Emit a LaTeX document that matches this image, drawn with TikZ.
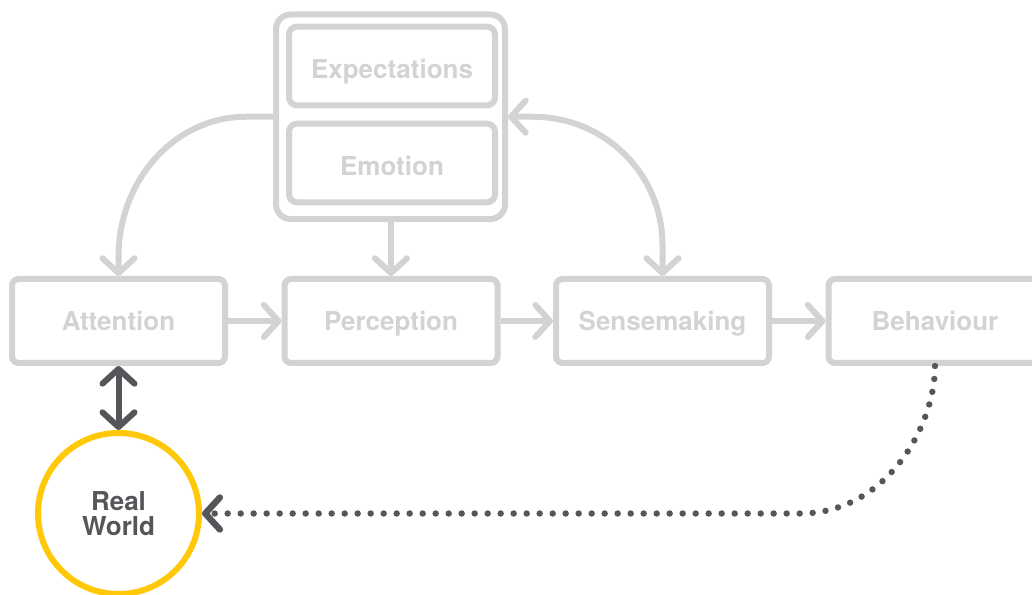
\documentclass[tikz,border=0pt]{standalone}
\usepackage{fontspec}
\setmainfont{TeX Gyre Heros}
\usetikzlibrary{arrows.meta,calc}
\definecolor{boxgray}{RGB}{210,211,213}
\definecolor{inkdark}{RGB}{85,86,89}
\definecolor{sunyellow}{RGB}{255,200,8}

\begin{document}
\begin{tikzpicture}[x=0.75pt,y=-0.75pt,
  barb/.tip={Straight Barb[length=11pt,width=24pt,round]},
  labelfont/.style={font=\fontsize{19.5}{19}\selectfont\bfseries},
  stage/.style={draw=boxgray, line width=4.5pt, rounded corners=5pt,
    minimum width=159.75pt, minimum height=63pt, inner sep=0pt,
    text=boxgray, labelfont, text height=14pt, text depth=0pt},
  innerbox/.style={stage, minimum width=154.5pt, minimum height=59pt,
    rounded corners=6pt, text height=19pt},
  groupbox/.style={draw=boxgray, line width=4.5pt, rounded corners=11pt,
    minimum width=171.75pt, minimum height=153.4pt, inner sep=0pt},
  conn/.style={draw=boxgray, line width=4.5pt, -barb},
  twoway/.style={draw=inkdark, line width=4.5pt, barb-barb},
  feedback/.style={draw=inkdark, line width=4.8pt, line cap=round,
    dash pattern=on 0pt off 9.75pt, -barb},
  world/.style={circle, draw=sunyellow, line width=4.5pt,
    minimum size=120.75pt, inner sep=0pt, text=inkdark, align=center,
    labelfont}
]
\useasboundingbox (0,0) rectangle (1032,595);
\clip (0,0) rectangle (1032,595);

% influences grouped at the top
\node[groupbox] (container) at (390.5,116.75) {};
\node[innerbox] (expectations) at (392,66) {Expectations};
\node[innerbox] (emotion) at (392,163) {Emotion};

% main processing chain
\node[stage] (attention) at (118.5,321) {Attention};
\node[stage] (perception) at (391,321) {Perception};
\node[stage] (sensemaking) at (662.5,321) {Sensemaking};
\node[stage] (behaviour) at (935,321) {Behaviour};

\node[world] (realworld) at (118.5,513.5) {Real\\World};

% chain arrows
\draw[conn] (attention) -- (perception);
\draw[conn] (perception) -- (sensemaking);
\draw[conn] (sensemaking) -- (behaviour);

% influence arrows
\draw[conn] (perception.north |- container.south) -- (perception.north);
\draw[conn] (container.west) -- ++(-27,0)
  to[out=180,in=90,out distance=53pt,in distance=58pt]
  ($(attention.north)+(0,-19)$) -- (attention.north);
\draw[conn, barb-barb] (sensemaking.north) -- ++(0,-31)
  to[out=90,in=0,out distance=53pt,in distance=54pt]
  ($(container.east)+(25,0)$) -- (container.east);

% link to the real world
\draw[twoway] (attention.south) -- (realworld.north);
\draw[feedback] (behaviour.south)
  to[out=270,in=0,out distance=45pt,in distance=65pt]
  ($(behaviour.south |- realworld.east)+(-135,0)$) -- (realworld.east);
\end{tikzpicture}
\end{document}
